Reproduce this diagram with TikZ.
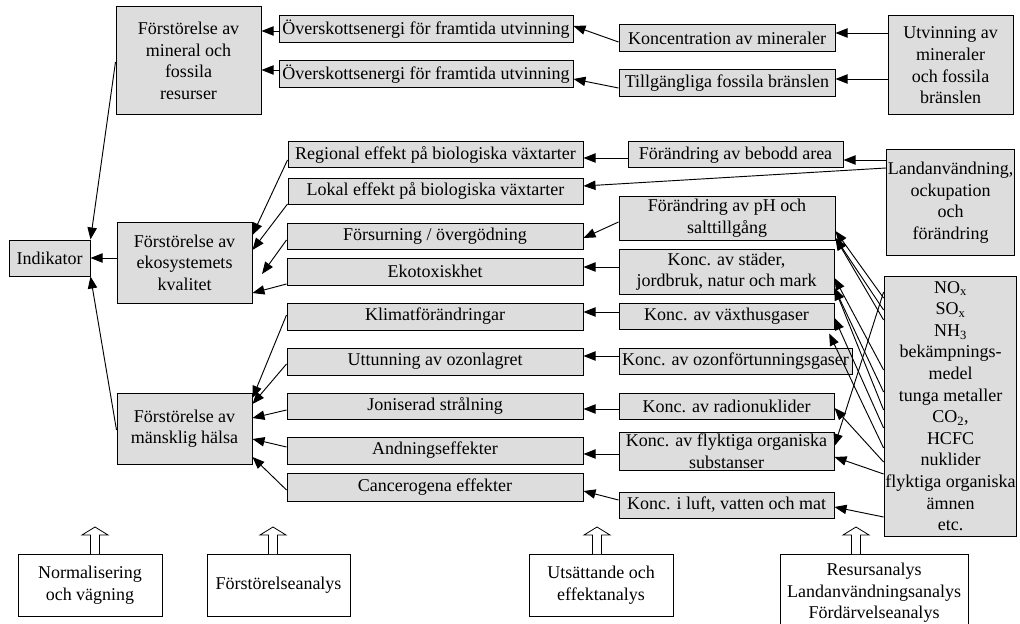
\documentclass[tikz,border=0pt]{standalone}
\usepackage{fontspec}
\setmainfont{Liberation Serif}
\usetikzlibrary{arrows.meta}
\definecolor{boxgray}{RGB}{221,221,221}
\newcommand\mybox[7]{%
  \pgfmathsetmacro\bw{(#4-#2)*0.75}%
  \pgfmathsetmacro\bh{(#5-#3)*0.75}%
  \node[#6, minimum width=\bw pt, minimum height=\bh pt] (#1) at ({(#2+#4)/2},{(#3+#5)/2}) {#7};%
}
\newcommand\blockarrow[2]{%
  \draw[line width=0.6pt, fill=white] (#1-4.5,#2) -- (#1-4.5,#2-19) -- (#1-13,#2-19) -- (#1,#2-27) -- (#1+13,#2-19) -- (#1+4.5,#2-19) -- (#1+4.5,#2);%
}
\begin{document}
\begin{tikzpicture}[x=0.75pt,y=-0.75pt,
  gbox/.style={draw=black, line width=0.75pt, fill=boxgray, inner sep=1pt, align=center, font=\fontsize{13.5}{16.2}\selectfont},
  wbox/.style={gbox, fill=white},
  arr/.style={line width=0.7pt, -{Triangle[length=9pt,width=7pt]}},
  ]
\useasboundingbox (0,0) rectangle (1020,624);
\fill[white] (0,0) rectangle (1020,624);

% left column
\mybox{ind}{9}{240}{90}{276}{gbox}{Indikator}
\mybox{minres}{116}{7}{261}{115}{gbox}{Förstörelse av\\mineral och\\fossila\\resurser}
\mybox{eko}{117}{222}{252}{303}{gbox}{Förstörelse av\\ekosystemets\\kvalitet}
\mybox{halsa}{117}{393}{252}{464}{gbox}{Förstörelse av\\mänsklig hälsa}

% effects column
\mybox{over1}{279}{16}{573}{43}{gbox}{Överskottsenergi för framtida utvinning}
\mybox{over2}{279}{61}{573}{88}{gbox}{Överskottsenergi för framtida utvinning}
\mybox{reg}{288}{142}{583}{168}{gbox}{Regional effekt på biologiska växtarter}
\mybox{lok}{288}{178}{583}{204}{gbox}{Lokal effekt på biologiska växtarter}
\mybox{fors}{287}{223}{583}{249}{gbox}{Försurning / övergödning}
\mybox{tox}{287}{258}{583}{285}{gbox}{Ekotoxiskhet}
\mybox{klim}{287}{303}{583}{330}{gbox}{Klimatförändringar}
\mybox{utt}{287}{348}{583}{375}{gbox}{Uttunning av ozonlagret}
\mybox{jon}{287}{393}{583}{419}{gbox}{Joniserad strålning}
\mybox{andn}{287}{437}{583}{464}{gbox}{Andningseffekter}
\mybox{canc}{287}{473}{583}{501}{gbox}{Cancerogena effekter}

% concentration column
\mybox{konc}{619}{25}{835}{52}{gbox}{Koncentration av mineraler}
\mybox{tillg}{619}{70}{835}{97}{gbox}{Tillgängliga fossila bränslen}
\mybox{beb}{628}{142}{843}{168}{gbox}{Förändring av bebodd area}
\mybox{ph}{619}{196}{835}{240}{gbox}{Förändring av pH och\\salttillgång}
\mybox{stad}{619}{249}{834}{294}{gbox}{Konc. av städer,\\jordbruk, natur och  mark}
\mybox{vaxt}{619}{303}{834}{329}{gbox}{Konc. av växthusgaser}
\mybox{ozon}{619}{348}{852}{374}{gbox}{Konc. av ozonförtunningsgaser}
\mybox{rad}{619}{393}{834}{419}{gbox}{Konc. av radionuklider}
\mybox{flyk}{619}{437}{834}{466}{gbox}{Konc. av flyktiga organiska\\substanser}
\mybox{luft}{619}{492}{834}{518}{gbox}{Konc. i luft, vatten och  mat}

% sources
\mybox{utv}{888}{16}{1013}{115}{gbox}{Utvinning av\\mineraler\\och fossila\\bränslen}
\mybox{land}{888}{150}{1013}{255}{gbox}{Landanvändning,\\ockupation\\och\\förändring}
\mybox{nox}{888}{276}{1013}{536}{gbox}{NO\textsubscript{x}\\SO\textsubscript{x}\\NH\textsubscript{3}\\bekämpnings-\\medel\\tunga metaller\\CO\textsubscript{2},\\HCFC\\nuklider\\flyktiga organiska\\ämnen\\etc.}

% bottom boxes
\mybox{norm}{18}{554}{162}{616}{wbox}{Normalisering\\och vägning}
\mybox{forst}{207}{554}{350}{616}{wbox}{Förstörelseanalys}
\mybox{uts}{529}{554}{673}{616}{wbox}{Utsättande och\\effektanalys}
\mybox{res}{780}{554}{968}{632}{wbox}{Resursanalys\\Landanvändningsanalys\\Fördärvelseanalys}

\blockarrow{95}{554}
\blockarrow{273}{554}
\blockarrow{597}{554}
\blockarrow{856}{554}

% top connectors
\draw[arr] (over1.west |- 0,31) -- (minres.east |- 0,31);
\draw[arr] (over2.west |- 0,70) -- (minres.east |- 0,70);
\draw[arr] (konc.west |- 0,42) -- (over1.east |- 0,26);
\draw[arr] (tillg.west |- 0,88) -- (over2.east |- 0,79);
\draw[arr] (utv.west |- 0,33) -- (konc.east |- 0,33);
\draw[arr] (utv.west |- 0,79) -- (tillg.east |- 0,79);

% to indicator
\draw[arr] (minres.west |- 0,62) -- (ind.north east);
\draw[arr] (halsa.west |- 0,430) -- (ind.south east);
\draw[arr] (eko.west |- 0,258) -- (ind.east |- 0,258);

% concentrations -> effects
\draw[arr] (beb.west |- 0,158) -- (reg.east |- 0,158);
\draw[arr] (land.west |- 0,160) -- (beb.east |- 0,160);
\draw[arr] (land.west |- 0,168) -- (lok.east |- 0,186);
\draw[arr] (ph.west |- 0,222) -- (fors.east |- 0,238);
\draw[arr] (stad.west |- 0,267) -- (tox.east |- 0,267);
\draw[arr] (vaxt.west |- 0,312) -- (klim.east |- 0,312);
\draw[arr] (ozon.west |- 0,356) -- (utt.east |- 0,356);
\draw[arr] (rad.west |- 0,409) -- (jon.east |- 0,409);
\draw[arr] (flyk.west |- 0,454) -- (andn.east |- 0,454);
\draw[arr] (luft.west |- 0,500) -- (canc.east |- 0,491);

% effects -> damage
\coordinate (forsend) at (262,274);
\draw[arr] (reg.west |- 0,160) -- (eko.east |- 0,235);
\draw[arr] (lok.west |- 0,204) -- (eko.east |- 0,250);
\draw[arr] (fors.west |- 0,240) -- (forsend);
\draw[arr] (tox.west |- 0,284) -- (eko.east |- 0,293);
\draw[arr] (klim.west |- 0,315) -- (halsa.east |- 0,398);
\draw[arr] (utt.west |- 0,364) -- (halsa.east |- 0,404);
\draw[arr] (jon.west |- 0,410) -- (halsa.east |- 0,418);
\draw[arr] (andn.west |- 0,447) -- (halsa.east |- 0,439);
\draw[arr] (canc.west |- 0,490) -- (halsa.east |- 0,457);

% emissions -> concentrations
\draw[arr] (nox.west |- 0,298) -- (ph.east |- 0,231);
\draw[arr] (nox.west |- 0,310) -- (ph.east |- 0,238);
\draw[arr] (nox.west |- 0,320) -- (ph.east |- 0,238);
\draw[arr] (nox.west |- 0,370) -- (stad.east |- 0,278);
\draw[arr] (nox.west |- 0,392) -- (stad.east |- 0,288);
\draw[arr] (nox.west |- 0,410) -- (stad.east |- 0,288);
\draw[arr] (nox.west |- 0,428) -- (vaxt.east |- 0,318);
\draw[arr] (nox.west |- 0,448) -- ([xshift=-4pt,yshift=-3pt]vaxt.south east);
\draw[arr] (nox.west |- 0,462) -- (rad.east |- 0,408);
\draw[arr] (nox.west |- 0,292) -- (flyk.east |- 0,446);
\draw[arr] (nox.west |- 0,474) -- (flyk.east |- 0,457);
\draw[arr] (nox.west |- 0,517) -- (luft.east |- 0,507);
\end{tikzpicture}
\end{document}
